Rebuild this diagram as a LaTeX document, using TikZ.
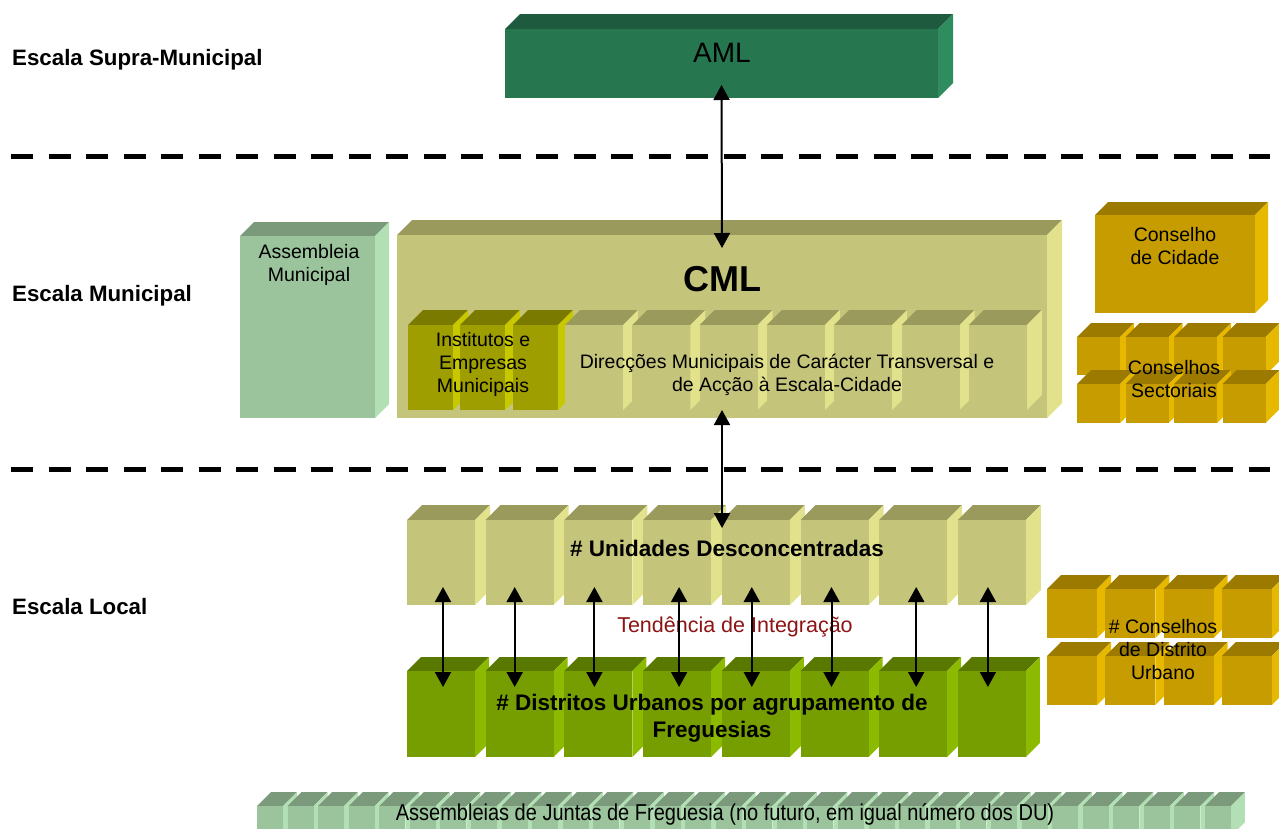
\documentclass[tikz,border=0pt]{standalone}
\usepackage{fontspec}
\setmainfont{Liberation Sans}
\usetikzlibrary{arrows.meta}

\definecolor{amlF}{RGB}{38,118,80}
\definecolor{amlT}{RGB}{30,90,62}
\definecolor{amlS}{RGB}{46,140,94}
\definecolor{verdeF}{RGB}{155,196,156}
\definecolor{verdeT}{RGB}{122,154,123}
\definecolor{verdeS}{RGB}{178,224,180}
\definecolor{cmlF}{RGB}{196,196,122}
\definecolor{cmlT}{RGB}{154,154,92}
\definecolor{cmlS}{RGB}{226,226,140}
\definecolor{olivaF}{RGB}{158,158,0}
\definecolor{olivaT}{RGB}{122,122,0}
\definecolor{olivaS}{RGB}{200,200,0}
\definecolor{ouroF}{RGB}{198,156,0}
\definecolor{ouroT}{RGB}{156,122,0}
\definecolor{ouroS}{RGB}{230,184,0}
\definecolor{duF}{RGB}{118,158,0}
\definecolor{duT}{RGB}{88,120,0}
\definecolor{duS}{RGB}{140,186,0}
\definecolor{tendencia}{RGB}{140,20,20}

% caixa: name, x, y (front top left), width, height, depth, colour
\newcommand{\caixa}[7]{%
  \fill[#7T] (#2,#3) -- ++(#6,-#6) -- ++(#4,0) -- ++(-#6,#6) -- cycle;
  \fill[#7S] (#2+#4,#3) -- ++(#6,-#6) -- ++(0,#5) -- ++(-#6,#6) -- cycle;
  \node[frente,fill=#7F,minimum width=#4,minimum height=#5] (#1) at (#2+#4/2,#3+#5/2) {};
}

\begin{document}
\begin{tikzpicture}[x=1pt,y=-1pt,
  frente/.style={inner sep=0pt,outer sep=0pt,draw=none},
  dupla/.style={{Triangle[width=16pt,length=15pt]}-{Triangle[width=16pt,length=15pt]},line width=2pt},
  separador/.style={line width=5pt,dash pattern=on 22pt off 15.5pt},
  escala/.style={anchor=base west,inner sep=0pt,font=\fontsize{22.3}{27}\selectfont\bfseries},
  texto/.style={align=center,inner sep=0pt,font=\fontsize{19.5}{23}\selectfont},
  negrito/.style={align=center,inner sep=0pt,font=\fontsize{22.5}{27}\selectfont\bfseries}]
  \fill[white] (0,0) rectangle (1279,828);
  \useasboundingbox (0,0) rectangle (1279,828);

  \node[escala] (supra) at (12,65) {Escala Supra-Municipal};
  \node[escala] (munic) at (12,301) {Escala Municipal};
  \node[escala] (local) at (12,614) {Escala Local};
  \draw[separador] (11,156) -- (1270,156);
  \draw[separador] (11,469) -- (1270,469);

  \caixa{aml}{505}{29}{433}{69}{15}{aml}
  \node[inner sep=0pt,font=\fontsize{28}{32}\selectfont] (taml) at (722,53) {AML};

  \caixa{am}{240}{236}{135}{182}{14}{verde}
  \node[texto,anchor=north] (tam) at (309,244) {Assembleia\\Municipal};

  \caixa{cml}{397}{235}{650}{183}{15}{cml}
  \node[inner sep=0pt,font=\fontsize{36}{40}\selectfont\bfseries] (tcml) at (722,279) {CML};
  \foreach \x [count=\i] in {408,460,513}{
    \caixa{ie\i}{\x}{325}{45}{85}{15}{oliva}
  }
  \foreach \i in {0,...,6}{
    \caixa{dm\i}{565+67.3*\i}{325}{58}{85}{15}{cml}
  }
  \node[texto] (tie) at (483,364) {Institutos e\\Empresas\\Municipais};
  \node[texto] (tdm) at (787,375) {Direcções Municipais de Carácter Transversal e\\de Acção à Escala-Cidade};

  \caixa{cc}{1095}{215}{160}{98}{13}{ouro}
  \node[texto] (tcc) at (1175,246) {Conselho\\de Cidade};
  \foreach \i in {0,...,3}{
    \caixa{sa\i}{1077+48.5*\i}{337}{43}{38}{14}{ouro}
  }
  \foreach \i in {0,...,3}{
    \caixa{sb\i}{1077+48.5*\i}{384}{43}{39}{14}{ouro}
  }
  \node[texto] (tcs) at (1174,379) {Conselhos\\Sectoriais};

  \foreach \i in {0,...,7}{
    \caixa{ud\i}{407+78.7*\i}{520}{68}{85}{15}{cml}
  }
  \foreach \i in {0,...,7}{
    \caixa{du\i}{407+78.7*\i}{671}{68}{86}{14}{du}
  }
  \node[negrito] (tud) at (727,548) {\# Unidades Desconcentradas};
  \node[negrito] (tdu) at (712,718) {\# Distritos Urbanos por agrupamento de\\Freguesias};
  \node[inner sep=0pt,text=tendencia,font=\fontsize{21.5}{25}\selectfont] (tti) at (735,627) {Tendência de Integração};

  \foreach \i in {0,...,3}{
    \caixa{ca\i}{1047+58.3*\i}{589}{50}{49}{14}{ouro}
  }
  \foreach \i in {0,...,3}{
    \caixa{cb\i}{1047+58.3*\i}{656}{50}{49}{14}{ouro}
  }
  \node[texto] (tcd) at (1163,650) {\# Conselhos\\de Distrito\\Urbano};

  \foreach \i in {0,...,31}{
    \caixa{jf\i}{257+30.58*\i}{806}{26}{30}{14}{verde}
  }
  \node[inner sep=0pt,font=\fontsize{23}{27}\selectfont] (tjf) at (725,814) {\scalebox{0.87}[1]{Assembleias de Juntas de Freguesia (no futuro, em igual número dos DU)}};

  \coordinate (udtopo) at (722,528);
  \draw[dupla] ([yshift=13pt]aml.south) -- ([yshift=-13pt]cml.north);
  \draw[dupla] ([yshift=8pt]cml.south) -- (udtopo);
  \foreach \i/\s in {0/2,1/-5,2/-4,3/2,4/-4,5/-3,6/3,7/-4}{
    \draw[dupla] ([xshift=\s pt,yshift=18pt]ud\i.south) -- ([xshift=\s pt,yshift=-16pt]du\i.north);
  }
\end{tikzpicture}
\end{document}
